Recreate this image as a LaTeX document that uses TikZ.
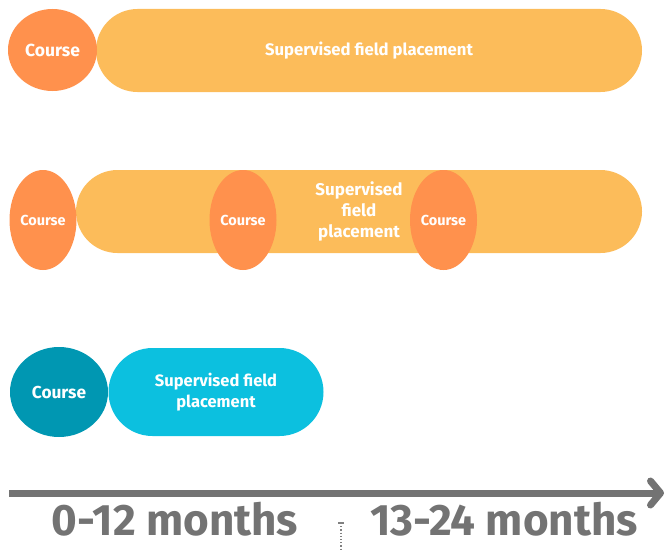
\documentclass[tikz,border=0pt]{standalone}
\usepackage{fontspec}
\setmainfont{Fira Sans}
\usetikzlibrary{shapes.geometric,shapes.misc,arrows.meta}
\definecolor{courseorange}{HTML}{FF914D}
\definecolor{fieldorange}{HTML}{FCBC5A}
\definecolor{courseteal}{HTML}{0097B2}
\definecolor{fieldcyan}{HTML}{0CC0DF}
\definecolor{axisgray}{HTML}{737373}
\newcommand\fsz[2]{\bfseries\fontsize{#1}{#2}\selectfont}

\begin{document}
\begin{tikzpicture}[x=1pt,y=-1pt,
    course/.style={ellipse,inner sep=0pt,text=white},
    field/.style={rounded rectangle,inner sep=0pt,text=white,align=center}]
    \useasboundingbox (0,0) rectangle (668,551);
    % ligne 1
    \node[field,fill=fieldorange,minimum width=546,minimum height=83,font=\fsz{16.7}{20}] (place1) at (369,50.5) {Supervised field placement};
    \node[course,fill=courseorange,minimum width=89,minimum height=82,font=\fsz{17.5}{20}] (course1) at (52.5,50) {Course};
    % ligne 2
    \node[field,fill=fieldorange,minimum width=566,minimum height=83,font=\fsz{17}{21}] (place2) at (359,211.5) {Supervised\\field\\placement};
    \foreach \x/\n in {43/a,243/b,443.5/c}
        \node[course,fill=courseorange,minimum width=67,minimum height=100,font=\fsz{14.5}{17}] (course2\n) at (\x,220) {Course};
    % ligne 3
    \node[field,fill=fieldcyan,minimum width=215,minimum height=88,font=\fsz{16.5}{21}] (place3) at (216,392) {Supervised field\\placement};
    \node[course,fill=courseteal,minimum width=98,minimum height=90,font=\fsz{17.3}{20}] (course3) at (59,392) {Course};
    % axe
    \coordinate (start) at (9,493);
    \coordinate (end) at (664,493);
    \draw[axisgray,line width=7,-{Straight Barb[round,length=10,width=24]}] (start) -- (end);
    \node[axisgray,anchor=base,font=\fsz{44}{52}] (first) at (175,535) {0-12 months};
    \node[axisgray,anchor=base,font=\fsz{44}{52}] (second) at (504,535) {13-24 months};
    % repere
    \coordinate (tick) at (341,523);
    \draw[gray,dotted,line width=1.2] (tick) -- ++(0,28);
    \draw[gray,line width=1.5] (tick) ++(-3,0) -- ++(6,0);
\end{tikzpicture}
\end{document}
